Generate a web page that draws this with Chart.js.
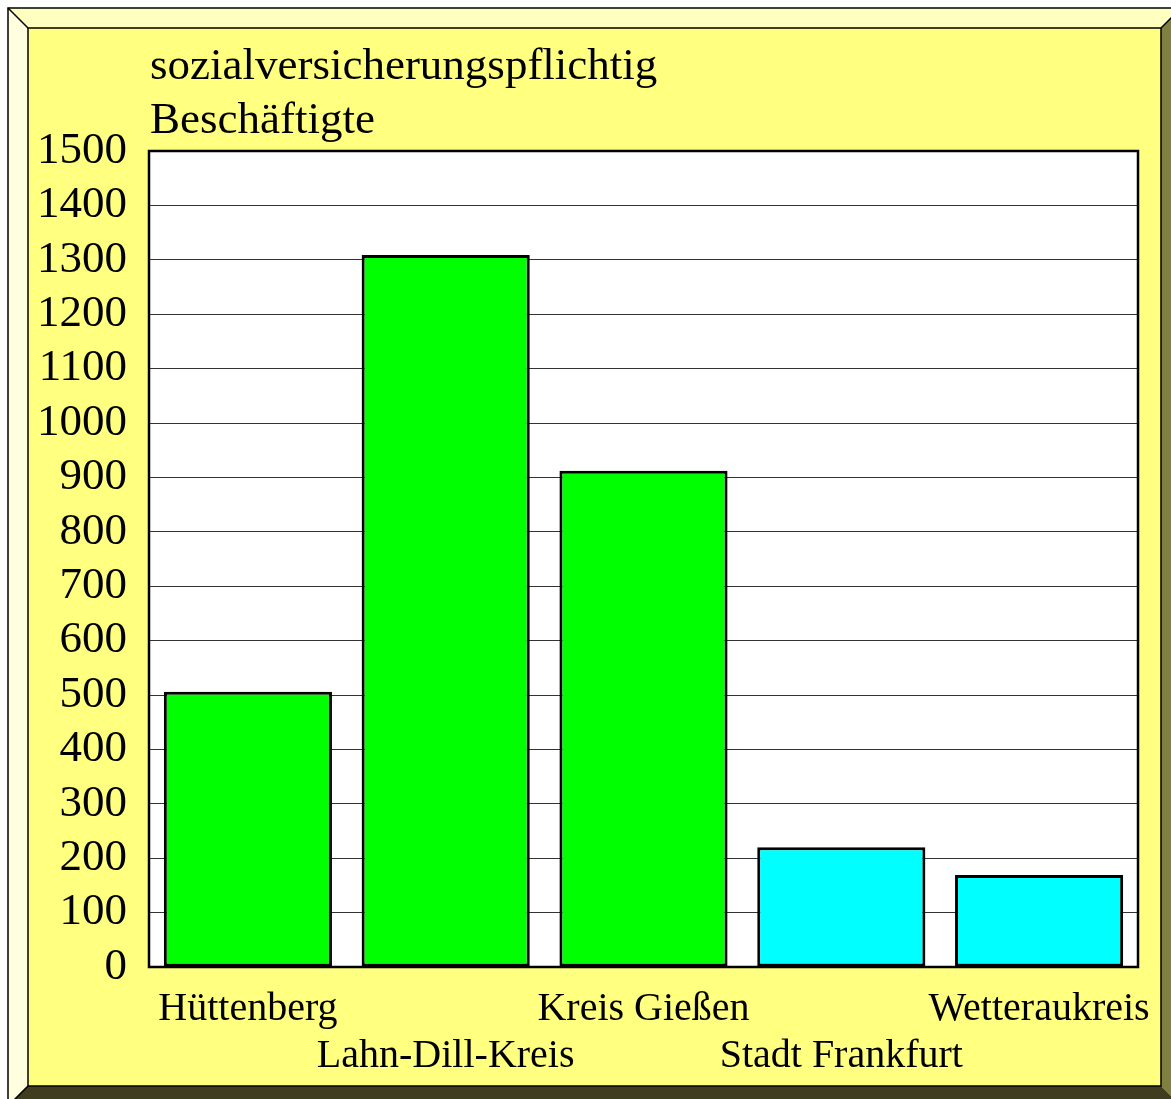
<!DOCTYPE html>
<html>
<head>
<meta charset="utf-8">
<script src="https://cdn.jsdelivr.net/npm/chart.js@4/dist/chart.umd.min.js"></script>
<style>
  html, body { margin: 0; padding: 0; background: #ffffff; }
  #wrap { width: 1171px; height: 1099px; }
</style>
</head>
<body>
<div id="wrap"><canvas id="chart" width="1171" height="1099"></canvas></div>
<script>
// Employees subject to social insurance, by district
const categories = ['Hüttenberg', 'Lahn-Dill-Kreis', 'Kreis Gießen', 'Stadt Frankfurt', 'Wetteraukreis'];
const employees = [506, 1309, 912, 220, 169];
const axisTitleLines = ['sozialversicherungspflichtig', 'Beschäftigte'];
const yMin = 0;
const yMax = 1500;
const yStep = 100;

const barColors = ['#00ff00', '#00ff00', '#00ff00', '#00ffff', '#00ffff'];
const serif = "'Liberation Serif', 'Times New Roman', serif";

// Bevelled yellow panel behind the whole chart
const panelFrame = {
  id: 'panelFrame',
  beforeDraw(chart) {
    const ctx = chart.ctx;
    const o = { l: 8, t: 8, r: 1181, b: 1106 };
    const i = { l: 28, t: 28, r: 1161, b: 1086 };
    ctx.save();
    ctx.fillStyle = '#ffffff';
    ctx.fillRect(0, 0, chart.width, chart.height);
    const poly = (pts, fill) => {
      ctx.beginPath();
      ctx.moveTo(pts[0][0], pts[0][1]);
      for (let k = 1; k < pts.length; k++) ctx.lineTo(pts[k][0], pts[k][1]);
      ctx.closePath();
      ctx.fillStyle = fill;
      ctx.fill();
    };
    poly([[o.l, o.t], [o.r, o.t], [i.r, i.t], [i.l, i.t]], '#ffffc0');
    poly([[o.l, o.t], [i.l, i.t], [i.l, i.b], [o.l, o.b]], '#ffffe0');
    poly([[o.r, o.t], [o.r, o.b], [i.r, i.b], [i.r, i.t]], '#808040');
    poly([[o.l, o.b], [i.l, i.b], [i.r, i.b], [o.r, o.b]], '#403c20');
    ctx.fillStyle = '#ffff80';
    ctx.fillRect(i.l, i.t, i.r - i.l, i.b - i.t);
    ctx.strokeStyle = '#000000';
    ctx.lineWidth = 1.5;
    ctx.strokeRect(o.l, o.t, o.r - o.l, o.b - o.t);
    ctx.strokeRect(i.l, i.t, i.r - i.l, i.b - i.t);
    ctx.beginPath();
    ctx.moveTo(o.l, o.t); ctx.lineTo(i.l, i.t);
    ctx.moveTo(o.r, o.t); ctx.lineTo(i.r, i.t);
    ctx.moveTo(o.l, o.b); ctx.lineTo(i.l, i.b);
    ctx.stroke();

    // white plotting area
    const a = chart.chartArea;
    ctx.fillStyle = '#ffffff';
    ctx.fillRect(a.left, a.top, a.right - a.left, a.bottom - a.top);
    ctx.restore();
  },
  afterDatasetsDraw(chart) {
    const ctx = chart.ctx;
    const a = chart.chartArea;
    ctx.save();
    ctx.strokeStyle = '#000000';
    ctx.lineWidth = 2.5;
    ctx.strokeRect(a.left, a.top, a.right - a.left, a.bottom - a.top);
    ctx.restore();
  }
};

// Two-line axis caption above the plot, left aligned with it
const axisCaption = {
  id: 'axisCaption',
  afterDraw(chart) {
    const ctx = chart.ctx;
    const a = chart.chartArea;
    ctx.save();
    ctx.fillStyle = '#000000';
    ctx.font = '45px ' + serif;
    ctx.textAlign = 'left';
    ctx.textBaseline = 'alphabetic';
    ctx.fillText(axisTitleLines[0], a.left + 1, 79);
    ctx.fillText(axisTitleLines[1], a.left + 1, 133);
    ctx.restore();
  }
};

new Chart(document.getElementById('chart'), {
  type: 'bar',
  data: {
    labels: categories,
    datasets: [{
      data: employees,
      backgroundColor: barColors,
      borderColor: '#000000',
      borderWidth: 3,
      borderSkipped: false,
      barPercentage: 0.85,
      categoryPercentage: 1.0
    }]
  },
  options: {
    responsive: false,
    devicePixelRatio: 1,
    animation: false,
    layout: { padding: { left: 0, top: 151, right: 33, bottom: 0 } },
    plugins: {
      legend: { display: false },
      title: { display: false },
      tooltip: { enabled: false }
    },
    scales: {
      x: {
        grid: { display: false, drawTicks: false },
        border: { display: true, color: '#000000', width: 2 },
        afterFit(scale) {
          scale.height = 132;
          scale.paddingLeft = 0;
          scale.paddingRight = 0;
        },
        ticks: {
          autoSkip: false,
          maxRotation: 0,
          minRotation: 0,
          padding: 19,
          color: '#000000',
          font: { family: serif, size: 40, lineHeight: 1.175 },
          callback(value, index) {
            const name = categories[index];
            return index % 2 === 1 ? ['', name] : name;
          }
        }
      },
      y: {
        min: yMin,
        max: yMax,
        afterFit(scale) {
          scale.width = 149;
          scale.paddingTop = 0;
          scale.paddingBottom = 0;
        },
        grid: { color: '#333333', lineWidth: 1, drawTicks: false },
        border: { display: true, color: '#000000', width: 2 },
        ticks: {
          stepSize: yStep,
          autoSkip: false,
          padding: 22,
          color: '#000000',
          font: { family: serif, size: 45 },
          callback(value) { return String(value); }
        }
      }
    }
  },
  plugins: [panelFrame, axisCaption]
});
</script>
</body>
</html>
